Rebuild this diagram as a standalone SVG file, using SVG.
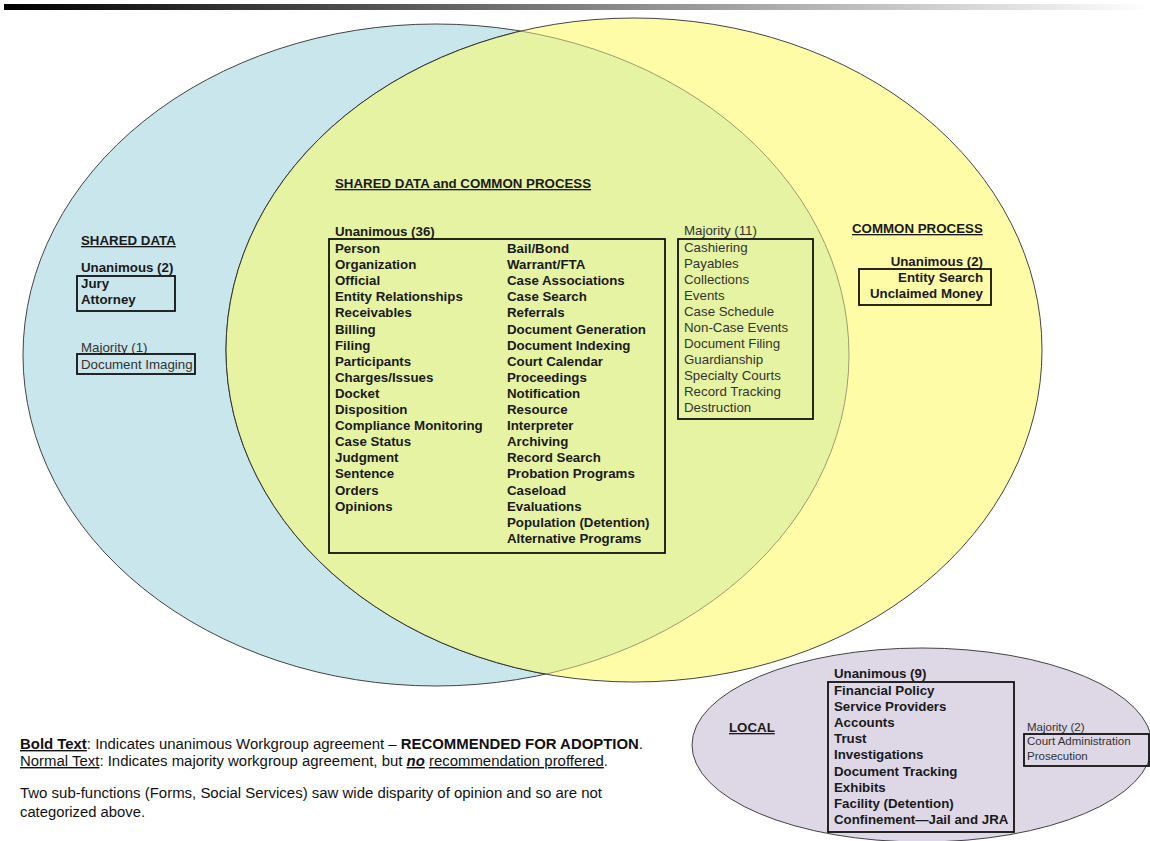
<svg xmlns="http://www.w3.org/2000/svg" width="1150" height="841" viewBox="0 0 1150 841">
<style>
text{font-family:"Liberation Sans",Arial,sans-serif;font-size:13.3px;fill:#1a1a1a}
.b{font-weight:bold}
.m{fill:#333}
.u{text-decoration:underline}
.box{fill:none;stroke:#111;stroke-width:1.8}
.sm{font-size:11.5px}
.lg{font-size:14px;fill:#111}
</style>
<defs>
<linearGradient id="bar" x1="0" y1="0" x2="1" y2="0">
<stop offset="0" stop-color="#000"/>
<stop offset="0.12" stop-color="#1e1e1e"/>
<stop offset="0.5" stop-color="#808080"/>
<stop offset="1" stop-color="#fff"/>
</linearGradient>
<clipPath id="clipBlue"><ellipse cx="436" cy="355" rx="413" ry="331"/></clipPath>
<clipPath id="clipYellow"><ellipse cx="634" cy="350" rx="408" ry="332"/></clipPath>
</defs>
<rect x="4" y="4" width="1146" height="6" fill="url(#bar)"/>
<g id="shapes">
<ellipse cx="436" cy="355" rx="413" ry="331" fill="#c9e6ec" stroke="#444" stroke-width="1"/>
<ellipse cx="634" cy="350" rx="408" ry="332" fill="#fffca8" stroke="#444" stroke-width="1"/>
<ellipse cx="634" cy="350" rx="408" ry="332" fill="#e6f3a3" clip-path="url(#clipBlue)"/>
<ellipse cx="436" cy="355" rx="413" ry="331" fill="none" stroke="#9c9c70" stroke-width="1" clip-path="url(#clipYellow)"/>
<ellipse cx="634" cy="350" rx="408" ry="332" fill="none" stroke="#333" stroke-width="1" clip-path="url(#clipBlue)"/>
<ellipse cx="922" cy="745" rx="230" ry="97" fill="#ddd7e6" stroke="#444" stroke-width="1"/>
</g>
<g id="connectors"/>
<g id="shared-data">
<text x="81" y="245" class="b u">SHARED DATA</text>
<text x="81" y="272" class="b">Unanimous (2)</text>
<rect x="77" y="276" width="98" height="35" class="box"/>
<text x="81" y="288" class="b">Jury</text>
<text x="81" y="304" class="b">Attorney</text>
<text x="81" y="352" class="m">Majority (1)</text>
<rect x="77" y="354" width="118" height="20" class="box"/>
<text x="81" y="369" class="m">Document Imaging</text>
</g>
<g id="shared-and-common">
<text x="335" y="188" class="b u">SHARED DATA and COMMON PROCESS</text>
<text x="335" y="236" class="b">Unanimous (36)</text>
<rect x="329" y="239" width="336" height="314" class="box"/>
<text class="b">
<tspan x="335" y="253">Person</tspan>
<tspan x="335" y="269.1">Organization</tspan>
<tspan x="335" y="285.2">Official</tspan>
<tspan x="335" y="301.3">Entity Relationships</tspan>
<tspan x="335" y="317.4">Receivables</tspan>
<tspan x="335" y="333.5">Billing</tspan>
<tspan x="335" y="349.6">Filing</tspan>
<tspan x="335" y="365.7">Participants</tspan>
<tspan x="335" y="381.8">Charges/Issues</tspan>
<tspan x="335" y="397.9">Docket</tspan>
<tspan x="335" y="414">Disposition</tspan>
<tspan x="335" y="430.1">Compliance Monitoring</tspan>
<tspan x="335" y="446.2">Case Status</tspan>
<tspan x="335" y="462.3">Judgment</tspan>
<tspan x="335" y="478.4">Sentence</tspan>
<tspan x="335" y="494.5">Orders</tspan>
<tspan x="335" y="510.6">Opinions</tspan>
</text>
<text class="b">
<tspan x="507" y="253">Bail/Bond</tspan>
<tspan x="507" y="269.1">Warrant/FTA</tspan>
<tspan x="507" y="285.2">Case Associations</tspan>
<tspan x="507" y="301.3">Case Search</tspan>
<tspan x="507" y="317.4">Referrals</tspan>
<tspan x="507" y="333.5">Document Generation</tspan>
<tspan x="507" y="349.6">Document Indexing</tspan>
<tspan x="507" y="365.7">Court Calendar</tspan>
<tspan x="507" y="381.8">Proceedings</tspan>
<tspan x="507" y="397.9">Notification</tspan>
<tspan x="507" y="414">Resource</tspan>
<tspan x="507" y="430.1">Interpreter</tspan>
<tspan x="507" y="446.2">Archiving</tspan>
<tspan x="507" y="462.3">Record Search</tspan>
<tspan x="507" y="478.4">Probation Programs</tspan>
<tspan x="507" y="494.5">Caseload</tspan>
<tspan x="507" y="510.6">Evaluations</tspan>
<tspan x="507" y="526.7">Population (Detention)</tspan>
<tspan x="507" y="542.8">Alternative Programs</tspan>
</text>
<text x="684" y="235" class="m">Majority (11)</text>
<rect x="678" y="239" width="135" height="180" class="box"/>
<text class="m">
<tspan x="684" y="252">Cashiering</tspan>
<tspan x="684" y="268">Payables</tspan>
<tspan x="684" y="284">Collections</tspan>
<tspan x="684" y="300">Events</tspan>
<tspan x="684" y="316">Case Schedule</tspan>
<tspan x="684" y="332">Non-Case Events</tspan>
<tspan x="684" y="348">Document Filing</tspan>
<tspan x="684" y="364">Guardianship</tspan>
<tspan x="684" y="380">Specialty Courts</tspan>
<tspan x="684" y="396">Record Tracking</tspan>
<tspan x="684" y="412">Destruction</tspan>
</text>
</g>
<g id="common-process">
<text x="852" y="233" class="b u">COMMON PROCESS</text>
<text x="983" y="266" class="b" text-anchor="end">Unanimous (2)</text>
<rect x="859" y="269" width="132" height="36" class="box"/>
<text x="983" y="282" class="b" text-anchor="end">Entity Search</text>
<text x="983" y="298" class="b" text-anchor="end">Unclaimed Money</text>
</g>
<g id="local">
<text x="729" y="732" class="b u">LOCAL</text>
<text x="834" y="678" class="b">Unanimous (9)</text>
<rect x="828" y="682" width="186" height="150" class="box"/>
<text class="b">
<tspan x="834" y="695">Financial Policy</tspan>
<tspan x="834" y="711.1">Service Providers</tspan>
<tspan x="834" y="727.2">Accounts</tspan>
<tspan x="834" y="743.3">Trust</tspan>
<tspan x="834" y="759.4">Investigations</tspan>
<tspan x="834" y="775.5">Document Tracking</tspan>
<tspan x="834" y="791.6">Exhibits</tspan>
<tspan x="834" y="807.7">Facility (Detention)</tspan>
<tspan x="834" y="823.8">Confinement—Jail and JRA</tspan>
</text>
<text x="1027" y="731" class="m sm">Majority (2)</text>
<rect x="1024" y="734" width="125" height="32" class="box"/>
<text x="1027" y="745" class="m sm">Court Administration</text>
<text x="1027" y="760" class="m sm">Prosecution</text>
</g>
<g id="legend">
<text x="20" y="749" class="lg" textLength="623" lengthAdjust="spacingAndGlyphs"><tspan class="b u">Bold Text</tspan>: Indicates unanimous Workgroup agreement – <tspan class="b">RECOMMENDED FOR ADOPTION</tspan>.</text>
<text x="20" y="766" class="lg" textLength="588" lengthAdjust="spacingAndGlyphs"><tspan class="u">Normal Text</tspan>: Indicates majority workgroup agreement, but <tspan class="b u" font-style="italic">no</tspan> <tspan class="u">recommendation proffered</tspan>.</text>
<text x="20" y="798" class="lg" textLength="582" lengthAdjust="spacingAndGlyphs">Two sub-functions (Forms, Social Services) saw wide disparity of opinion and so are not</text>
<text x="20" y="817" class="lg" textLength="125" lengthAdjust="spacingAndGlyphs">categorized above.</text>
</g>
</svg>
